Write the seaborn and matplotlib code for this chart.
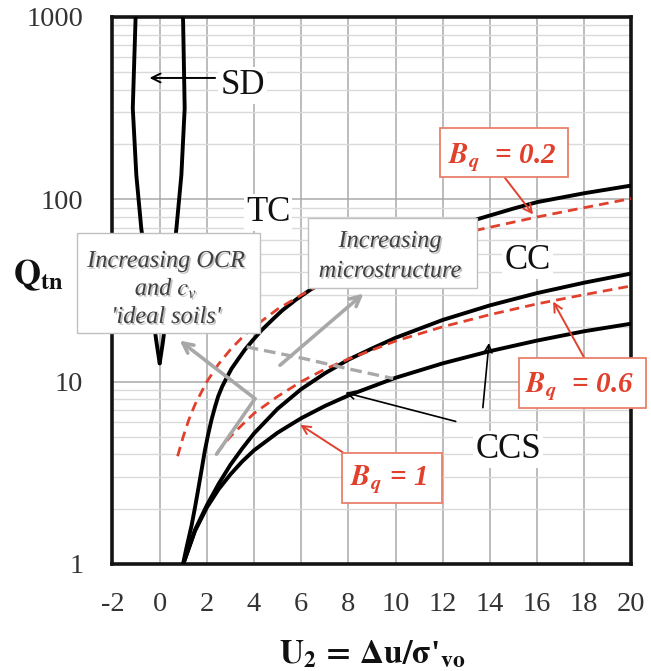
import numpy as np
import pandas as pd
import matplotlib
matplotlib.use("Agg")
import matplotlib.pyplot as plt
import matplotlib.patheffects as pe
import seaborn as sns
from matplotlib.patches import Rectangle
from matplotlib.ticker import LogLocator, NullFormatter, FixedLocator

# ---------------- data ----------------
x_ticks = [-2, 0, 2, 4, 6, 8, 10, 12, 14, 16, 18, 20]
x_tick_labels = ["-2", "0", "2", "4", "6", "8", "10", "12", "14", "16", "18", "20"]
y_ticks = [1, 10, 100, 1000]
y_tick_labels = ["1", "10", "100", "1000"]

# SD lens (two branches meeting at the tip)
sd_q = [1000, 316, 136, 69.3, 16.6, 12.6]
sd_left_x = [-1.02, -1.14, -0.99, -0.78, -0.14, 0.0]
sd_right_x = [0.99, 1.06, 0.92, 0.71, 0.14, 0.0]

# TC / CC boundary
tc_x = [0.99, 1.15, 1.35, 1.5, 1.63, 1.78, 1.91, 2.05, 2.2, 2.35, 2.48, 2.65,
        2.84, 3.05, 3.33, 3.6, 3.9, 4.33, 4.8, 5.2, 5.8, 6.4,
        8.0, 10.0, 12.0, 13.5, 15.0, 16.0, 18.0, 20.0]
tc_q = [1.0, 1.25, 1.62, 2.05, 2.55, 3.3, 4.15, 5.1, 6.2, 7.3, 8.3, 9.4,
        10.5, 11.8, 13.3, 14.9, 16.6, 19.2, 22.0, 24.6, 28.3, 32.0,
        41.7, 54.5, 67.0, 78.0, 89.0, 96.5, 108.0, 119.0]

# CC / CCS boundary
mid_x = [1.0, 1.5, 2.0, 2.5, 3.0, 3.5, 4.0, 5.0, 6.0, 7.0, 8.0, 9.0, 10.0,
         12.0, 14.0, 16.0, 18.0, 20.0]
mid_q = [1.0, 1.54, 2.1, 2.75, 3.5, 4.3, 5.2, 7.1, 9.1, 11.1, 13.2, 15.2, 17.4,
         21.8, 26.2, 30.6, 34.9, 39.2]

# lower CCS curve
low_x = [1.0, 1.5, 2.0, 2.5, 3.0, 3.5, 4.0, 5.0, 6.0, 7.0, 8.0, 10.0, 12.0,
         14.0, 16.0, 18.0, 20.0]
low_q = [1.0, 1.52, 2.04, 2.57, 3.1, 3.65, 4.2, 5.25, 6.3, 7.35, 8.4, 10.5,
         12.6, 14.7, 16.8, 18.9, 20.8]

# Bq = 0.2 and Bq = 0.6 dashed contours
bq02_x = [0.76, 1.0, 1.25, 1.5, 2.0, 2.5, 3.0, 3.5, 4.0, 5.0, 6.4, 8.0, 10.0,
          12.0, 13.5, 16.0, 18.0, 20.0]
bq02_q = [3.9, 5.0, 6.25, 7.5, 10.0, 12.5, 15.0, 17.5, 20.0, 25.0, 32.0, 40.0,
          50.0, 60.0, 68.0, 80.0, 90.0, 101.0]
bq06_x = [2.43, 2.7, 3.0, 3.5, 4.0, 5.0, 6.0, 7.0, 8.0, 10.0, 12.0, 14.0,
          16.0, 18.0, 20.0]
bq06_q = [4.05, 4.5, 5.0, 5.8, 6.7, 8.3, 10.0, 11.7, 13.3, 16.7, 20.0, 23.3,
          26.7, 30.0, 33.5]

# grey dashed line (increasing microstructure boundary)
gdash_x = [3.69, 4.68, 6.1, 7.94, 9.9]
gdash_q = [15.5, 14.6, 13.4, 11.8, 10.4]

# arrows: (start x, start Q) -> (head x, Q)
sd_arrow = [(2.35, 463), (-0.43, 463)]
ccs_arrow1 = [(12.55, 6.05), (7.87, 8.7)]
ccs_arrow2 = [(13.7, 7.2), (13.96, 16.3)]
bq02_arrow = [(14.6, 133), (15.83, 82.6)]
bq06_arrow = [(18.0, 13.5), (16.68, 27.5)]
bq1_arrow = [(7.79, 4.07), (5.96, 5.8)]
micro_arrow = [(5.1, 12.3), (8.64, 30.4)]
ocr_arrow = [(2.41, 4.0), (4.04, 8.07), (0.85, 16.8)]

zone_labels = ["SD", "TC", "CC", "CCS"]
zone_x = [3.51, 4.6, 15.6, 14.77]
zone_q = [377, 75.7, 41.3, 3.82]

# ---------------- styling ----------------
sns.set_theme(style="white")
plt.rcParams["font.family"] = ["Liberation Serif", "DejaVu Serif"]
plt.rcParams["mathtext.fontset"] = "stix"
plt.rcParams["axes.unicode_minus"] = False

RED = "#e0402c"
RED_BOX = "#e8806a"
GREY = "#a8a8a8"

fig = plt.figure(figsize=(6.51, 6.71), dpi=100)
ax = fig.add_axes([0.1728, 0.1595, 0.7972, 0.8152])
ax.set_yscale("log")
ax.set_xlim(-2, 20)
ax.set_ylim(1, 1000)

ax.xaxis.set_major_locator(FixedLocator(x_ticks))
ax.set_xticklabels(x_tick_labels)
ax.yaxis.set_major_locator(FixedLocator(y_ticks))
ax.set_yticklabels(y_tick_labels)
ax.yaxis.set_minor_locator(LogLocator(base=10, subs=np.arange(2, 10)))
ax.yaxis.set_minor_formatter(NullFormatter())

ax.grid(which="major", axis="both", color="#a9a9a9", lw=1.1)
ax.grid(which="minor", axis="y", color="#dadada", lw=1.0)
ax.set_axisbelow(True)
ax.tick_params(which="minor", length=0)
ax.tick_params(axis="x", which="major", length=5, width=1, color="#999999",
               pad=15, labelsize=20.5, labelcolor="#333333")
ax.tick_params(axis="y", which="major", length=7, width=1, color="#999999",
               pad=14, labelsize=20.5, labelcolor="#333333")
for s in ax.spines.values():
    s.set_color("#141414")
    s.set_linewidth(2.6)

# ---------------- curves ----------------
def curve(xs, qs, **kw):
    sns.lineplot(x=xs, y=qs, ax=ax, sort=False, estimator=None, **kw)

lw_black = 2.8
curve(sd_left_x, sd_q, color="black", lw=lw_black, zorder=3)
curve(sd_right_x, sd_q, color="black", lw=lw_black, zorder=3)
curve(tc_x, tc_q, color="black", lw=lw_black, zorder=3)
curve(mid_x, mid_q, color="black", lw=lw_black, zorder=3)
curve(low_x, low_q, color="black", lw=lw_black, zorder=3)
curve(bq02_x, bq02_q, color=RED, lw=2.0, linestyle=(0, (3.5, 2.2)), zorder=3.5)
curve(bq06_x, bq06_q, color=RED, lw=2.0, linestyle=(0, (3.5, 2.2)), zorder=3.5)
curve(gdash_x, gdash_q, color=GREY, lw=2.4, linestyle=(0, (3.5, 1.8)), zorder=4)

# ---------------- arrows ----------------
def arrow(seg, color, lw, ms, style="->", z=5):
    ax.annotate("", xy=seg[1], xytext=seg[0],
                arrowprops=dict(arrowstyle=style, color=color, lw=lw,
                                shrinkA=0, shrinkB=0, mutation_scale=ms),
                zorder=z)

arrow(sd_arrow, "black", 1.4, 16)
arrow(ccs_arrow1, "black", 1.2, 14)
arrow(ccs_arrow2, "black", 1.2, 14)
arrow(bq02_arrow, RED, 1.4, 15)
arrow(bq06_arrow, RED, 1.4, 15)
arrow(bq1_arrow, RED, 1.4, 15)
arrow(micro_arrow, GREY, 2.6, 18)
arrow(ocr_arrow[:2], GREY, 2.6, 18, style="-")
arrow(ocr_arrow[1:], GREY, 2.6, 18)

# ---------------- zone labels ----------------
for lab, zx, zq in zip(zone_labels, zone_x, zone_q):
    ax.text(zx, zq, lab, fontsize=25, color="#111111", ha="center",
            va="baseline", zorder=7,
            bbox=dict(facecolor="white", edgecolor="none", pad=1.5))

# ---------------- boxes ----------------
def box(x0, y0, x1, y1, ec, lw=1.0):
    ax.add_patch(Rectangle((x0, y0), x1 - x0, y1 - y0, transform=ax.transAxes,
                           facecolor="white", edgecolor=ec, lw=lw,
                           zorder=6, clip_on=False))

shadow = [pe.withSimplePatchShadow(offset=(1.2, -1.2), shadow_rgbFace="black",
                                   alpha=0.25)]
TXT = "#404040"
box(-0.0684, 0.4223, 0.2842, 0.6051, "#c0c0c0")
for txt, yb in zip(["Increasing OCR", r"and $c_v$", "'ideal soils'"],
                   [0.543, 0.4918, 0.4406]):
    ax.text(0.1031, yb, txt, transform=ax.transAxes, fontsize=17.5,
            fontstyle="italic", color=TXT, ha="center", va="baseline",
            zorder=7, clip_on=False, path_effects=shadow)

box(0.3773, 0.504, 0.7017, 0.632, "#c0c0c0")
for txt, yb in zip(["Increasing", "microstructure"], [0.5795, 0.5247]):
    ax.text(0.5347, yb, txt, transform=ax.transAxes, fontsize=17.5,
            fontstyle="italic", color=TXT, ha="center", va="baseline",
            zorder=7, clip_on=False, path_effects=shadow)

bq_boxes = [(0.631, 0.7075, 0.8776, 0.797), (0.7832, 0.2852, 1.0279, 0.3766),
            (0.4422, 0.1115, 0.635, 0.2029)]
bq_texts = [r"$\mathbfit{B_q}$  = 0.2", r"$\mathbfit{B_q}$  = 0.6",
            r"$\mathbfit{B_q}$ = 1"]
bq_pos = [(0.75, 0.733), (0.9008, 0.3144), (0.5328, 0.1444)]
for (x0, y0, x1, y1), t, (tx, ty) in zip(bq_boxes, bq_texts, bq_pos):
    box(x0, y0, x1, y1, RED_BOX, lw=1.3)
    ax.text(tx, ty, t, transform=ax.transAxes, fontsize=21, color=RED,
            fontstyle="italic", fontweight="bold", ha="center",
            va="baseline", zorder=7, clip_on=False)

# ---------------- axis labels ----------------
ax.set_ylabel(r"$\mathbf{Q_{tn}}$", rotation=0, fontsize=25, color="#111111",
              ha="center", va="center")
ax.yaxis.set_label_coords(-0.1435, 0.528)
ax.set_xlabel(r"$\mathbf{U_2\,=\,\Delta u/\sigma}$'$_{\mathbf{vo}}$",
              fontsize=24, fontweight="bold", color="#111111", va="baseline")
ax.xaxis.set_label_coords(0.501, -0.181)

fig.savefig("out.png", dpi=100)
